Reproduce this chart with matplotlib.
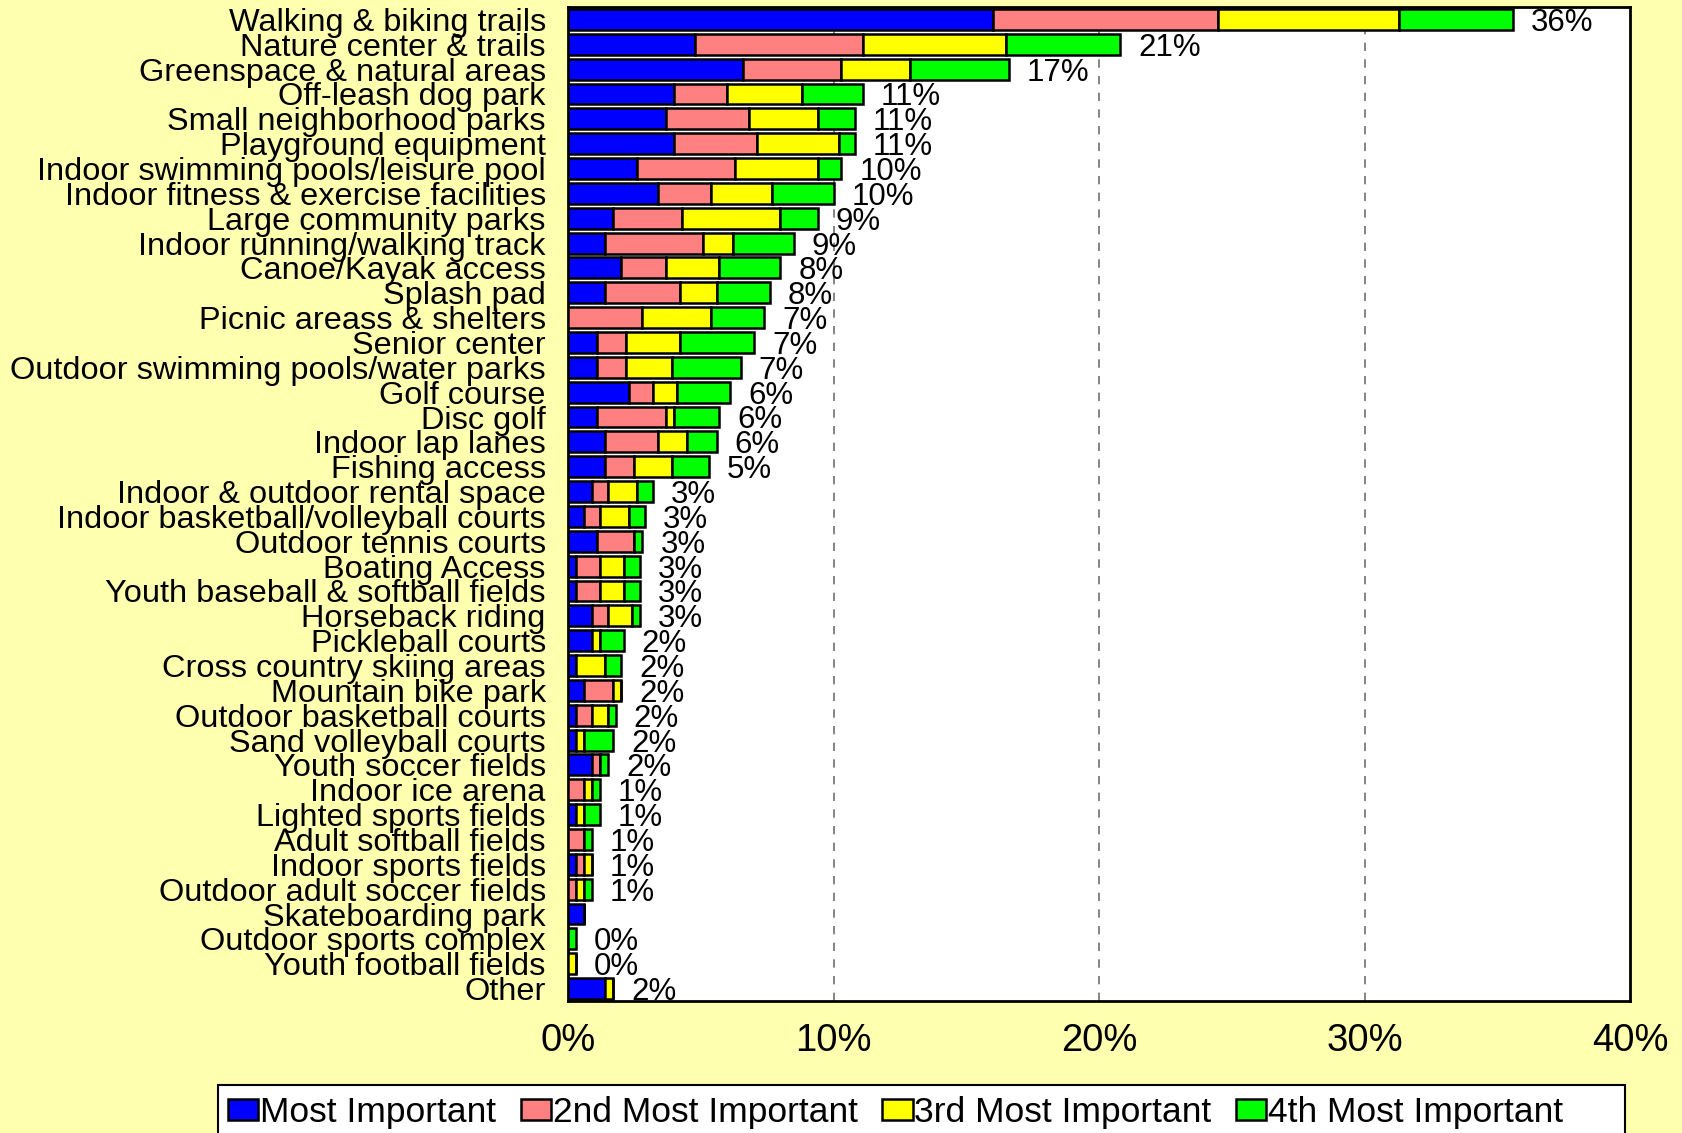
import matplotlib
matplotlib.use("Agg")
import matplotlib.pyplot as plt
from matplotlib.patches import Rectangle
import numpy as np

plt.rcParams['font.family'] = ['Liberation Sans', 'DejaVu Sans']

# facilities, top to bottom
categories = [
    "Walking & biking trails", "Nature center & trails", "Greenspace & natural areas",
    "Off-leash dog park", "Small neighborhood parks", "Playground equipment",
    "Indoor swimming pools/leisure pool", "Indoor fitness & exercise facilities",
    "Large community parks", "Indoor running/walking track", "Canoe/Kayak access",
    "Splash pad", "Picnic areass & shelters", "Senior center",
    "Outdoor swimming pools/water parks", "Golf course", "Disc golf", "Indoor lap lanes",
    "Fishing access", "Indoor & outdoor rental space", "Indoor basketball/volleyball courts",
    "Outdoor tennis courts", "Boating Access", "Youth baseball & softball fields",
    "Horseback riding", "Pickleball courts", "Cross country skiing areas",
    "Mountain bike park", "Outdoor basketball courts", "Sand volleyball courts",
    "Youth soccer fields", "Indoor ice arena", "Lighted sports fields",
    "Adult softball fields", "Indoor sports fields", "Outdoor adult soccer fields",
    "Skateboarding park", "Outdoor sports complex", "Youth football fields", "Other",
]

most = [16.0, 4.8, 6.6, 4.0, 3.7, 4.0, 2.6, 3.4, 1.7, 1.4, 2.0, 1.4, 0.0, 1.1, 1.1, 2.3,
        1.1, 1.4, 1.4, 0.9, 0.6, 1.1, 0.3, 0.3, 0.9, 0.9, 0.3, 0.6, 0.3, 0.3, 0.9, 0.0,
        0.3, 0.0, 0.3, 0.0, 0.6, 0.0, 0.0, 1.4]
second = [8.5, 6.3, 3.7, 2.0, 3.1, 3.1, 3.7, 2.0, 2.6, 3.7, 1.7, 2.8, 2.8, 1.1, 1.1, 0.9,
          2.6, 2.0, 1.1, 0.6, 0.6, 1.4, 0.9, 0.9, 0.6, 0.0, 0.0, 1.1, 0.6, 0.0, 0.3, 0.6,
          0.0, 0.6, 0.3, 0.3, 0.0, 0.0, 0.0, 0.0]
third = [6.8, 5.4, 2.6, 2.8, 2.6, 3.1, 3.1, 2.3, 3.7, 1.1, 2.0, 1.4, 2.6, 2.0, 1.7, 0.9,
         0.3, 1.1, 1.4, 1.1, 1.1, 0.0, 0.9, 0.9, 0.9, 0.3, 1.1, 0.3, 0.6, 0.3, 0.0, 0.3,
         0.3, 0.0, 0.3, 0.3, 0.0, 0.0, 0.3, 0.3]
fourth = [4.3, 4.3, 3.7, 2.3, 1.4, 0.6, 0.9, 2.3, 1.4, 2.3, 2.3, 2.0, 2.0, 2.8, 2.6, 2.0,
          1.7, 1.1, 1.4, 0.6, 0.6, 0.3, 0.6, 0.6, 0.3, 0.9, 0.6, 0.0, 0.3, 1.1, 0.3, 0.3,
          0.6, 0.3, 0.0, 0.3, 0.0, 0.3, 0.0, 0.0]

total_labels = ["36%", "21%", "17%", "11%", "11%", "11%", "10%", "10%", "9%", "9%", "8%",
                "8%", "7%", "7%", "7%", "6%", "6%", "6%", "5%", "3%", "3%", "3%", "3%",
                "3%", "3%", "2%", "2%", "2%", "2%", "2%", "2%", "1%", "1%", "1%", "1%",
                "1%", "", "0%", "0%", "2%"]

series_names = ["Most Important", "2nd Most Important", "3rd Most Important", "4th Most Important"]
colors = ["#0000FF", "#FF8080", "#FFFF00", "#00FF00"]
xticks = [0, 10, 20, 30, 40]

bg = "#FFFFB0"
fig = plt.figure(figsize=(16.82, 11.33), dpi=100, facecolor=bg)
ax = fig.add_axes([568/1682, 1 - 1001/1133, 1062/1682, 994/1133])
ax.set_facecolor("white")

y = np.arange(len(categories))
left = np.zeros(len(categories))
for vals, name, col in zip([most, second, third, fourth], series_names, colors):
    vals = np.array(vals)
    ax.barh(y, vals, left=left, height=0.84, color=col, edgecolor="black",
            linewidth=1.8, label=name, zorder=3)
    left = left + vals

for yi, tot, lab in zip(y, left, total_labels):
    if lab:
        ax.annotate(lab, (tot, yi), xytext=(13, -2.5), textcoords="offset points",
                    ha="left", va="center", fontsize=22.5, zorder=4)

ax.set_xlim(0, 40)
ax.set_ylim(len(categories) - 0.5, -0.5)
ax.set_xticks(xticks)
ax.set_xticklabels([f"{t}%" for t in xticks], fontsize=27.5)
ax.set_yticks(y)
ax.set_yticklabels(categories, fontsize=23.4)
ax.tick_params(axis="y", length=0, pad=16)
ax.tick_params(axis="x", length=0, pad=16)
for xv in xticks[1:-1]:
    ax.axvline(xv, color="#707070", linestyle=(0, (5, 5)), linewidth=1.2, zorder=1)
for sp in ax.spines.values():
    sp.set_linewidth(2)
    sp.set_color("black")

# legend box (Excel style, runs off the bottom edge)
fig.patches.append(Rectangle((218/1682, -0.05), (1625 - 218)/1682, 0.05 + 48/1133,
                             transform=fig.transFigure, facecolor="white",
                             edgecolor="black", linewidth=1.5, zorder=0))
handles, labels = ax.get_legend_handles_labels()
leg = fig.legend(handles, labels, loc="upper left",
                 bbox_to_anchor=(228/1682, 1 - 1096/1133), ncol=4,
                 fontsize=25.5, frameon=False, borderaxespad=0, borderpad=0,
                 handlelength=0.85, handleheight=0.56, handletextpad=0.05,
                 columnspacing=0.7)

fig.savefig("out.png", dpi=100, facecolor=bg)
